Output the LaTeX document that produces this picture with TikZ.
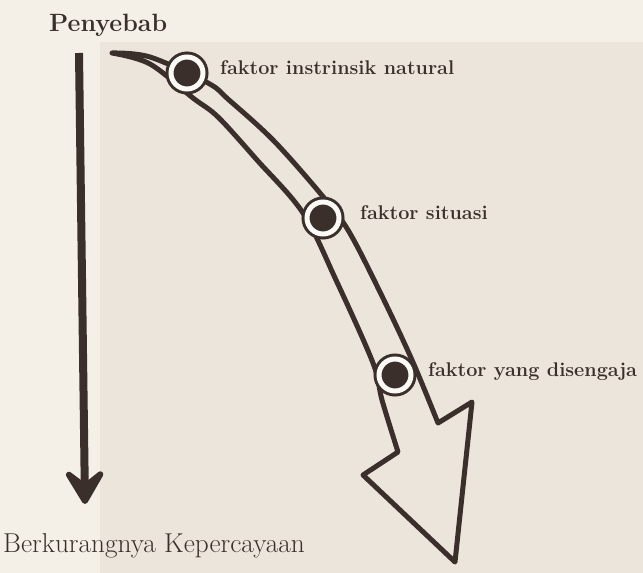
\documentclass[tikz,border=0pt]{standalone}
\usetikzlibrary{arrows.meta, positioning}
\definecolor{ink}{RGB}{58,47,42}
\definecolor{paper}{RGB}{244,239,231}
\definecolor{papershade}{RGB}{235,229,220}
\definecolor{ringwhite}{RGB}{252,250,246}

\begin{document}
\begin{tikzpicture}[x=1pt, y=-1pt,
    marker/.style={circle, minimum size=32pt, inner sep=0pt, outer sep=0pt,
      fill=ink, draw=ink, line width=3pt, double=ringwhite, double distance=5pt},
    factor/.style={font=\fontsize{19.8}{22}\selectfont\bfseries, text=ink, inner sep=0pt}]
    % Page
    \fill[paper] (0,0) rectangle (643,573);
    \fill[papershade] (100,42) rectangle (643,573);
    \useasboundingbox (0,0) rectangle (643,573);
    % Left axis: cause -> loss of trust
    \node[font=\fontsize{25}{28}\selectfont\bfseries, text=ink, anchor=base west, inner sep=0pt]
      (cause) at (49,31) {Penyebab};
    \node[font=\fontsize{27.3}{30}\selectfont, text=ink, anchor=base west, inner sep=0pt]
      (effect) at (3,552) {Berkurangnya Kepercayaan};
    \coordinate (top) at (79,53);
    \coordinate (bottom) at (85,504);
    \draw[ink, line width=8pt, -{Stealth[length=44pt, width=52pt, inset=20pt, round]}] (top) -- (bottom);
    % Big curved arrow (outline)
    \draw[ink, line width=5pt, line join=round]
      plot[smooth, tension=0.55] coordinates {(112,53) (150,64) (193,98) (218,117) (257,160)
        (303,213) (336,280) (373,363) (382,400) (398,452)}
      -- (363,475) -- (455,562) -- (472,402)
      -- plot[smooth, tension=0.55] coordinates {(438,423) (412,360) (380,292) (348,230)
        (320,193) (273,140) (229,100) (208,83) (150,57) (112,53)}
      -- cycle;
    % Factors on the arrow
    \foreach \n/\cx/\cy/\gap/\txt in {1/187/73/17pt/{faktor instrinsik natural},
        2/323/218/21pt/{faktor situasi}, 3/395/375/17pt/{faktor yang disengaja}} {
      \node[marker] (c\n) at (\cx,\cy) {};
      \node[factor, right=\gap of c\n, anchor=base west, yshift=-1.5pt] (f\n) {\txt};
    }
\end{tikzpicture}
\end{document}
